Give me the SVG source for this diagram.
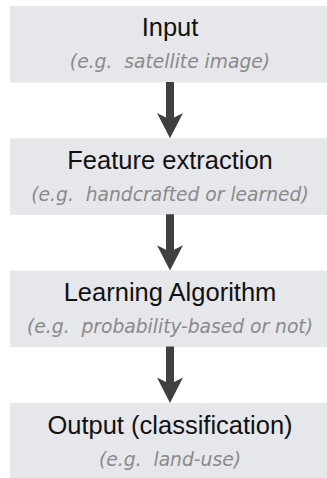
<svg xmlns="http://www.w3.org/2000/svg" xmlns:xlink="http://www.w3.org/1999/xlink" width="327" height="478" viewBox="0 0 327 478">
<style>
.box{fill:#e6e7eb;}
.title{font-family:"Liberation Sans",Arial,sans-serif;font-size:25.5px;fill:#111;text-anchor:middle;}
.sub{font-family:"DejaVu Sans",sans-serif;font-style:italic;font-size:18.7px;fill:#8a8a8a;text-anchor:middle;}
.arrow{fill:#404040;}
</style>
<defs>
<path id="arr" d="M-4,0 L4,0 L4,35.5 L13,31 L0,56.3 L-13,31 L-4,35.5 Z"/>
</defs>
<rect width="327" height="478" fill="#ffffff"/>
<g id="node-input">
<rect class="box" x="10" y="6" width="320" height="76.5"/>
<text class="title" x="170" y="36">Input</text>
<text class="sub" x="170" y="67.5">(e.g.&#160; satellite image)</text>
</g>
<g id="node-feature">
<rect class="box" x="10" y="138.3" width="320" height="76.5"/>
<text class="title" x="170" y="168.8">Feature extraction</text>
<text class="sub" x="170" y="200.5">(e.g.&#160; handcrafted or learned)</text>
</g>
<g id="node-learning">
<rect class="box" x="10" y="270.6" width="320" height="76.5"/>
<text class="title" x="170" y="301.2">Learning Algorithm</text>
<text class="sub" x="170" y="333">(e.g.&#160; probability-based or not)</text>
</g>
<g id="node-output">
<rect class="box" x="10" y="402.9" width="320" height="76"/>
<text class="title" x="170" y="434">Output (classification)</text>
<text class="sub" x="170" y="466">(e.g.&#160; land-use)</text>
</g>
<g id="connectors" class="arrow">
<use xlink:href="#arr" transform="translate(170,82)"/>
<use xlink:href="#arr" transform="translate(170,214.3)"/>
<use xlink:href="#arr" transform="translate(170,346.6)"/>
</g>
</svg>
